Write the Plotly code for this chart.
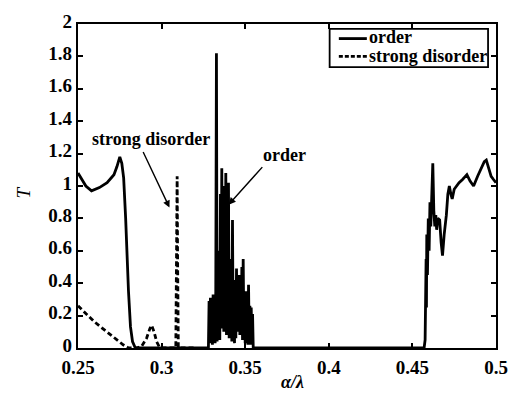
import plotly.graph_objects as go

# ---- data ----
order_x = [0.2500, 0.2512, 0.2547, 0.2581, 0.2628, 0.2674, 0.2715, 0.2733, 0.2750, 0.2762,
           0.2773, 0.2785, 0.2791, 0.2802, 0.2814, 0.2826, 0.2843, 0.3000, 0.3280,
           0.3284, 0.3288, 0.3292, 0.3296, 0.3300, 0.3304, 0.3308, 0.3312, 0.3316, 0.3320,
           0.3324, 0.3328, 0.3332, 0.3336, 0.3340, 0.3344, 0.3348, 0.3352, 0.3356, 0.3360,
           0.3364, 0.3368, 0.3372, 0.3376, 0.3380, 0.3384, 0.3388, 0.3392, 0.3396, 0.3400,
           0.3404, 0.3408, 0.3412, 0.3416, 0.3420, 0.3424, 0.3428, 0.3432, 0.3436, 0.3440,
           0.3444, 0.3448, 0.3452, 0.3456, 0.3460, 0.3464, 0.3468, 0.3472, 0.3476, 0.3480,
           0.3484, 0.3488, 0.3492, 0.3496, 0.3500, 0.3504, 0.3508, 0.3512, 0.3516, 0.3520,
           0.3524, 0.3528, 0.3532, 0.3536, 0.3540, 0.3544, 0.3548, 0.3580, 0.3600, 0.4000,
           0.4570, 0.4576, 0.4578, 0.4580, 0.4582, 0.4584, 0.4586, 0.4590, 0.4595, 0.4600,
           0.4605, 0.4610, 0.4616, 0.4622, 0.4628, 0.4634, 0.4640, 0.4645, 0.4652, 0.4663,
           0.4672, 0.4680, 0.4690, 0.4703, 0.4712, 0.4721, 0.4730, 0.4738, 0.4750, 0.4762,
           0.4779, 0.4800, 0.4826, 0.4845, 0.4866, 0.4890, 0.4913, 0.4930, 0.4942, 0.4955,
           0.4971, 0.4985, 0.5000]
order_y = [1.08, 1.06, 1.00, 0.97, 0.99, 1.02, 1.07, 1.12, 1.18, 1.14,
           1.05, 0.80, 0.62, 0.35, 0.13, 0.04, 0.00, 0.00, 0.00,
           0.29, 0.03, 0.31, 0.05, 0.27, 0.02, 0.33, 0.06, 0.30, 0.03,
           0.35, 1.82, 0.04, 0.42, 0.08, 0.60, 0.05, 0.95, 0.12, 1.11,
           0.15, 0.70, 0.10, 1.00, 0.14, 1.08, 0.08, 0.62, 0.12, 1.02,
           0.06, 0.55, 0.10, 0.45, 0.04, 0.79, 0.08, 0.38, 0.03, 0.42,
           0.06, 0.49, 0.10, 0.32, 0.13, 0.45, 0.08, 0.30, 0.12, 0.50,
           0.05, 0.55, 0.10, 0.30, 0.03, 0.35, 0.07, 0.28, 0.02, 0.39,
           0.06, 0.26, 0.02, 0.25, 0.03, 0.21, 0.00, 0.00, 0.00, 0.00,
           0.00, 0.05, 0.30, 0.15, 0.55, 0.25, 0.70, 0.45, 0.80, 0.60,
           0.90, 0.75, 1.00, 1.14, 0.85, 0.75, 0.82, 0.73, 0.80, 0.79,
           0.65, 0.57, 0.70, 0.82, 0.95, 1.00, 0.95, 0.92, 0.98, 1.00,
           1.02, 1.04, 1.07, 1.03, 1.00, 1.06, 1.11, 1.15, 1.16, 1.12,
           1.06, 1.04, 1.02]

disorder_x = [0.2500, 0.2540, 0.2600, 0.2660, 0.2720, 0.2770, 0.2802, 0.2850, 0.2880, 0.2910,
              0.2930, 0.2940, 0.2955, 0.2970, 0.2985, 0.3000, 0.3085, 0.3090, 0.3093, 0.3096,
              0.3100, 0.3200]
disorder_y = [0.26, 0.22, 0.16, 0.11, 0.06, 0.02, 0.00, 0.00, 0.01, 0.06,
              0.12, 0.14, 0.10, 0.04, 0.01, 0.00, 0.00, 0.50, 1.06, 0.50,
              0.00, 0.00]

series_names = ["order", "strong disorder"]

x_ticks = [0.25, 0.3, 0.35, 0.4, 0.45, 0.5]
x_ticklabels = ["0.25", "0.3", "0.35", "0.4", "0.45", "0.5"]
y_ticks = [0, 0.2, 0.4, 0.6, 0.8, 1, 1.2, 1.4, 1.6, 1.8, 2]
y_ticklabels = ["0", "0.2", "0.4", "0.6", "0.8", "1", "1.2", "1.4", "1.6", "1.8", "2"]

FONT = "Liberation Serif"

fig = go.Figure()
fig.add_trace(go.Scatter(x=order_x, y=order_y, mode="lines", name=series_names[0],
                         line=dict(color="black", width=2.8), showlegend=False))
fig.add_trace(go.Scatter(x=disorder_x, y=disorder_y, mode="lines", name=series_names[1],
                         line=dict(color="black", width=2.8, dash="5px,3px"), showlegend=False))

axis_common = dict(showline=True, linecolor="black", linewidth=2.2, mirror="ticks",
                   ticks="inside", ticklen=5, tickwidth=1.8, tickcolor="black",
                   showgrid=False, zeroline=False,
                   tickfont=dict(family=FONT, size=19, color="black", weight="bold"))

fig.update_xaxes(range=[0.25, 0.5], tickvals=x_ticks, ticktext=x_ticklabels,
                 ticklabelstandoff=1, **axis_common)
fig.update_yaxes(range=[0, 2], tickvals=y_ticks, ticktext=y_ticklabels,
                 ticklabelshift=-3, **axis_common)

txt_font = dict(family=FONT, size=18, color="black", weight="bold")

annots = [
    dict(x=0.2936, y=1.29, text="strong disorder", showarrow=False, xref="x", yref="y",
         xanchor="center", yanchor="middle", font=txt_font),
    dict(x=0.3047, y=0.867, text="", showarrow=True, ax=-27, ay=-57, xref="x", yref="y",
         arrowhead=2, arrowsize=1, arrowwidth=1.4, arrowcolor="black", standoff=0),
    dict(x=0.3733, y=1.19, text="order", showarrow=False, xref="x", yref="y",
         xanchor="center", yanchor="middle", font=txt_font),
    dict(x=0.3401, y=0.885, text="", showarrow=True, ax=35, ay=-39, xref="x", yref="y",
         arrowhead=2, arrowsize=1, arrowwidth=1.4, arrowcolor="black", standoff=0),
    dict(x=-0.130, y=0.479, text="<i>T</i>", showarrow=False, xref="paper", yref="paper",
         xanchor="center", yanchor="middle", textangle=-90,
         font=dict(family=FONT, size=19, color="black")),
    dict(x=0.512, y=-0.104, text="<i>α/λ</i>", showarrow=False, xref="paper", yref="paper",
         xanchor="center", yanchor="middle",
         font=dict(family=FONT, size=18, color="black", weight="bold")),
    # legend texts
    dict(x=0.691, y=0.960, text=series_names[0], showarrow=False, xref="paper", yref="paper",
         xanchor="left", yanchor="middle", font=txt_font),
    dict(x=0.691, y=0.902, text=series_names[1], showarrow=False, xref="paper", yref="paper",
         xanchor="left", yanchor="middle", font=txt_font),
]

shapes = [
    dict(type="rect", xref="paper", yref="paper", x0=0.602, x1=0.981, y0=0.867, y1=0.985,
         line=dict(color="black", width=1.8), fillcolor="white", layer="above"),
    dict(type="line", xref="paper", yref="paper", x0=0.624, x1=0.691, y0=0.955, y1=0.955,
         line=dict(color="black", width=2.8)),
    dict(type="line", xref="paper", yref="paper", x0=0.624, x1=0.691, y0=0.900, y1=0.900,
         line=dict(color="black", width=2.8, dash="4px,2px")),
]

fig.update_layout(
    width=519, height=395,
    margin=dict(l=78, r=11, t=18, b=47),
    paper_bgcolor="white", plot_bgcolor="white",
    showlegend=False,
    annotations=annots,
    shapes=shapes,
)

fig.write_html("out.html")
